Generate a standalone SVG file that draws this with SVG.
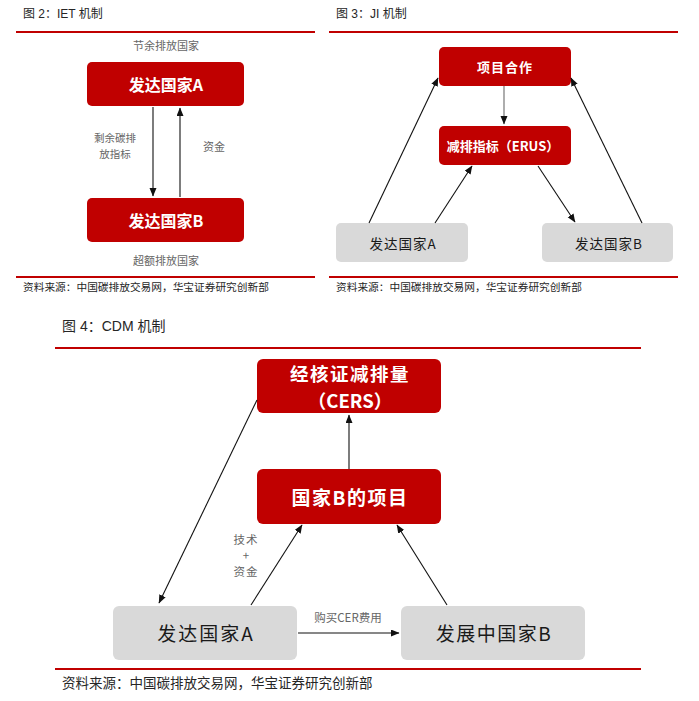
<svg xmlns="http://www.w3.org/2000/svg" width="699" height="701" viewBox="0 0 699 701">
<defs>
<style>
.ttl{font-family:"Liberation Sans","Noto Sans CJK SC",sans-serif;fill:#262626}
.src{font-family:"Liberation Sans","Noto Sans CJK SC",sans-serif;fill:#262626}
.rule{stroke:#C00000;stroke-width:2}
.red{fill:#C00000}
.gray{fill:#D9D9D9}
.wt{font-family:"Noto Sans CJK SC",sans-serif;fill:#fff;text-anchor:middle;dominant-baseline:central;font-weight:bold}
.bt{font-family:"Noto Sans CJK SC",sans-serif;fill:#1a1a1a;text-anchor:middle;dominant-baseline:central}
.lbl{font-family:"Noto Sans CJK SC",sans-serif;fill:#666;text-anchor:middle;dominant-baseline:central}
.ln{stroke:#111;stroke-width:1.1;fill:none}
.lg{stroke:#777;stroke-width:1.2;fill:none}
</style>
<marker id="ah" markerUnits="userSpaceOnUse" markerWidth="9" markerHeight="8" refX="8" refY="3.5" orient="auto">
<path d="M0,0 L8.5,3.5 L0,7 z" fill="#111"/>
</marker>
</defs>
<rect width="699" height="701" fill="#fff"/>

<!-- Figure 2 -->
<text class="ttl" x="23" y="18" font-size="12">图 2：IET 机制</text>
<line class="rule" x1="16" y1="32" x2="315" y2="32"/>
<text class="lbl" x="166" y="45" font-size="11">节余排放国家</text>
<g id="iet-a"><rect class="red" x="87" y="62" width="157" height="44" rx="5"/><text class="wt" x="166" y="84" font-size="16">发达国家A</text></g>
<g id="iet-b"><rect class="red" x="87" y="198" width="157" height="44" rx="5"/><text class="wt" x="166" y="220" font-size="16">发达国家B</text></g>
<g id="iet-conn">
<line class="ln" x1="153" y1="107" x2="153" y2="196" marker-end="url(#ah)"/>
<line class="ln" x1="180" y1="197" x2="180" y2="108" marker-end="url(#ah)"/>
</g>
<text class="lbl" x="115" y="137" font-size="10.5">剩余碳排</text>
<text class="lbl" x="115" y="153" font-size="10.5">放指标</text>
<text class="lbl" x="214" y="146" font-size="11">资金</text>
<text class="lbl" x="166" y="260" font-size="11">超额排放国家</text>
<line class="rule" x1="16" y1="277" x2="315" y2="277"/>
<text class="src" x="23" y="291" font-size="10.7">资料来源：中国碳排放交易网，华宝证券研究创新部</text>

<!-- Figure 3 -->
<text class="ttl" x="336" y="18" font-size="12">图 3：JI 机制</text>
<line class="rule" x1="329" y1="32" x2="678" y2="32"/>
<g id="ji-proj"><rect class="red" x="439" y="47" width="132" height="39" rx="5"/><text class="wt" x="505" y="66.5" font-size="13" letter-spacing="1">项目合作</text></g>
<g id="ji-erus"><rect class="red" x="439" y="126" width="132" height="39" rx="5"/><text class="wt" x="503" y="145.5" font-size="13">减排指标（ERUS）</text></g>
<g id="ji-a"><rect class="gray" x="336" y="223" width="132" height="39" rx="5"/><text class="bt" x="403" y="242.5" font-size="13.5" letter-spacing="1">发达国家A</text></g>
<g id="ji-b"><rect class="gray" x="542" y="223" width="131" height="39" rx="5"/><text class="bt" x="609" y="242.5" font-size="13.5" letter-spacing="1">发达国家B</text></g>
<g id="ji-conn">
<line class="ln" x1="369" y1="223" x2="438" y2="78" marker-end="url(#ah)"/>
<line class="ln" x1="435" y1="223" x2="472" y2="166" marker-end="url(#ah)"/>
<line class="ln" x1="538" y1="166" x2="575" y2="222" marker-end="url(#ah)"/>
<line class="ln" x1="642" y1="223" x2="571" y2="78" marker-end="url(#ah)"/>
<line class="lg" x1="504" y1="86" x2="504" y2="124" marker-end="url(#ah)"/>
</g>
<line class="rule" x1="329" y1="277" x2="678" y2="277"/>
<text class="src" x="336" y="291" font-size="10.7">资料来源：中国碳排放交易网，华宝证券研究创新部</text>

<!-- Figure 4 -->
<text class="ttl" x="62" y="331" font-size="14">图 4：CDM 机制</text>
<line class="rule" x1="55" y1="348" x2="641" y2="348"/>
<g id="cdm-cers"><rect class="red" x="257" y="359" width="184" height="54" rx="6"/>
<text class="wt" x="350" y="372.5" font-size="18.5" letter-spacing="1.5">经核证减排量</text>
<text class="wt" x="350" y="399.5" font-size="18.5">（CERS）</text></g>
<g id="cdm-proj"><rect class="red" x="257" y="469" width="184" height="55" rx="6"/><text class="wt" x="350" y="496" font-size="19" letter-spacing="1.5">国家B的项目</text></g>
<g id="cdm-a"><rect class="gray" x="113" y="606" width="184" height="54" rx="6"/><text class="bt" x="206" y="632" font-size="19" letter-spacing="2">发达国家A</text></g>
<g id="cdm-b"><rect class="gray" x="401" y="606" width="184" height="54" rx="6"/><text class="bt" x="494" y="632" font-size="19" letter-spacing="1.5">发展中国家B</text></g>
<g id="cdm-conn">
<line class="ln" x1="349" y1="469" x2="349" y2="415" marker-end="url(#ah)"/>
<line class="ln" x1="257" y1="400" x2="159" y2="603" marker-end="url(#ah)"/>
<line class="ln" x1="251" y1="605" x2="302" y2="525" marker-end="url(#ah)"/>
<line class="ln" x1="447" y1="605" x2="397" y2="525" marker-end="url(#ah)"/>
<line class="ln" x1="298" y1="633" x2="399" y2="633" marker-end="url(#ah)"/>
</g>
<text class="lbl" x="246" y="539" font-size="11.5" letter-spacing="1">技术</text>
<text class="lbl" x="246" y="555" font-size="11.5">+</text>
<text class="lbl" x="246" y="571" font-size="11.5" letter-spacing="1">资金</text>
<text class="lbl" x="348" y="617" font-size="11.5">购买CER费用</text>
<line class="rule" x1="55" y1="669" x2="641" y2="669"/>
<text class="src" x="62" y="688" font-size="13.5">资料来源：中国碳排放交易网，华宝证券研究创新部</text>
</svg>
